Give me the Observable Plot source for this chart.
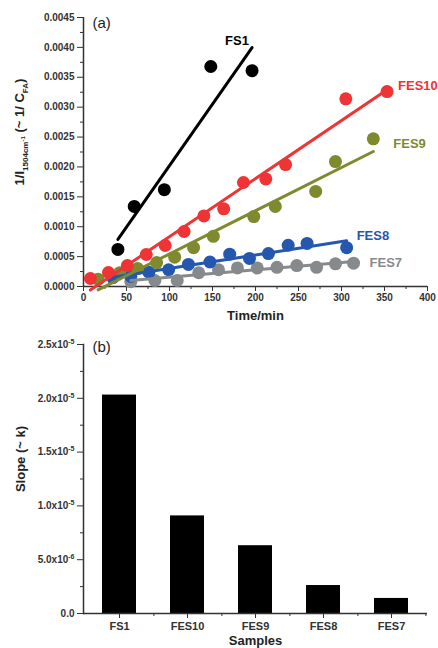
<!DOCTYPE html>
<html><head><meta charset="utf-8">
<script src="https://cdn.jsdelivr.net/npm/d3@7"></script>
<script src="https://cdn.jsdelivr.net/npm/@observablehq/plot@0.6"></script>
<style>body{margin:0;background:#fff} #wrap{width:438px} svg{display:block}</style>
</head><body><div id="wrap"></div>
<script>
// ---- Panel (a) data ----
const seriesNames = ["FS1", "FES10", "FES9", "FES8", "FES7"];
const seriesColors = ["#000000", "#ee3434", "#7f8a2e", "#2457ad", "#878a8c"];

const fs1Time = [40, 59, 94, 148, 196];
const fs1Value = [0.00062, 0.00134, 0.00162, 0.00368, 0.00361];

const fes10Time = [8, 29, 51, 73, 95, 117, 140, 163, 186, 212, 235, 305, 353];
const fes10Value = [0.000134, 0.000234, 0.00035, 0.000535, 0.000686, 0.00092, 0.00118, 0.0013, 0.00174, 0.0018, 0.00204, 0.00314, 0.00326];

const fes9Time = [17, 42, 63, 85, 106, 128, 151, 198, 223, 270, 293, 337];
const fes9Value = [0.00012, 0.00023, 0.0003, 0.0004, 0.00049, 0.00065, 0.00084, 0.00117, 0.00134, 0.00159, 0.00209, 0.00247];

const fes8Time = [34, 55, 76, 99, 122, 147, 170, 193, 215, 238, 260, 306];
const fes8Value = [0.00015, 0.00017, 0.00024, 0.00028, 0.00037, 0.00041, 0.00054, 0.00047, 0.00055, 0.00069, 0.00072, 0.00065];

const fes7Time = [55, 83, 109, 134, 157, 179, 202, 225, 248, 271, 293, 314];
const fes7Value = [0.00008, 0.0001, 0.0001, 0.00023, 0.00028, 0.00031, 0.00031, 0.00032, 0.00035, 0.00032, 0.00038, 0.00039];

const xTicks = [0, 50, 100, 150, 200, 250, 300, 350, 400];
const xMinorTicks = [25, 75, 125, 175, 225, 275, 325, 375];
const yTicks = [0, 0.0005, 0.001, 0.0015, 0.002, 0.0025, 0.003, 0.0035, 0.004, 0.0045];
const yMinorTicks = [0.00025, 0.00075, 0.00125, 0.00175, 0.00225, 0.00275, 0.00325, 0.00375, 0.00425];

// ---- Panel (b) data ----
const samples = ["FS1", "FES10", "FES9", "FES8", "FES7"];
const slopes = [2.03e-5, 9.07e-6, 6.3e-6, 2.6e-6, 1.4e-6];
const slopeTicks = [0, 5e-6, 1e-5, 1.5e-5, 2e-5, 2.5e-5];
const slopeMinorTicks = [2.5e-6, 7.5e-6, 1.25e-5, 1.75e-5, 2.25e-5];

// ---- build tables ----
const rows = [];
function addSeries(name, ts, vs) { ts.forEach((t, i) => rows.push({series: name, t, v: vs[i]})); }
addSeries("FES7", fes7Time, fes7Value);
addSeries("FES8", fes8Time, fes8Value);
addSeries("FES9", fes9Time, fes9Value);
addSeries("FES10", fes10Time, fes10Value);
addSeries("FS1", fs1Time, fs1Value);

const bars = samples.map((s, i) => ({sample: s, slope: slopes[i]}));

const FONT = "'Liberation Sans', Arial, sans-serif";
const AX = "#333";

// label offsets (style)
const labelOffsets = {FS1: [-27, -30], FES10: [11, -6], FES9: [20, 5], FES8: [10, -12], FES7: [16, 0]};

const labelMarks = seriesNames.map(name => Plot.text(rows.filter(d => d.series === name), Plot.selectLast({
  x: "t", y: "v", text: "series", fill: "series", dx: labelOffsets[name][0], dy: labelOffsets[name][1],
  textAnchor: "start", lineAnchor: "middle", fontSize: 13, fontWeight: "bold"
})));

const chartA = Plot.plot({
  width: 438, height: 325,
  marginLeft: 83, marginRight: 11, marginTop: 17, marginBottom: 39,
  style: {fontFamily: FONT, fontSize: "10px", fontWeight: "bold", color: "#222", background: "#fff"},
  x: {domain: [0, 400]},
  y: {domain: [0, 0.0045]},
  color: {domain: seriesNames, range: seriesColors},
  marks: [
    Plot.axisY({ticks: yTicks, tickFormat: d3.format(".4f"), tickSize: 6, tickPadding: 3, color: AX, label: null}),
    Plot.axisY(yMinorTicks, {tickSize: 3, tickFormat: () => "", color: AX, label: null}),
    Plot.axisX({ticks: xTicks, tickFormat: d3.format("d"), tickSize: 5, tickPadding: 2, color: AX, label: null}),
    Plot.axisX(xMinorTicks, {tickSize: 3, tickFormat: () => "", color: AX, label: null}),
    Plot.ruleX([0], {stroke: AX, strokeWidth: 1.5}),
    Plot.ruleY([0], {stroke: AX, strokeWidth: 1.5}),
    Plot.dot(rows, {x: "t", y: "v", fill: "series", r: 6.5}),
    Plot.linearRegressionY(rows, {x: "t", y: "v", stroke: "series", ci: 0, strokeWidth: 3}),
    ...labelMarks,
    Plot.text(["(a)"], {frameAnchor: "top-left", dx: 9, dy: 6, lineAnchor: "middle", fontSize: 15, fontWeight: "normal", fill: "#222"}),
    Plot.text(["Time/min"], {frameAnchor: "bottom", dy: 29, lineAnchor: "middle", fontSize: 13, fontWeight: "bold", fill: "#222"})
  ]
});

// rotated y label with sub/superscripts
const lab = d3.select(chartA).append("text")
  .attr("transform", "translate(24,132) rotate(-90)")
  .attr("text-anchor", "middle")
  .attr("font-family", FONT).attr("font-weight", "bold").attr("font-size", 13).attr("fill", "#222");
lab.append("tspan").text("1/I");
lab.append("tspan").attr("font-size", 8).attr("dy", 4).text("1504cm");
lab.append("tspan").attr("font-size", 6).attr("dy", -3).text("-1");
lab.append("tspan").attr("dy", -1).text(" (~ 1/ C");
lab.append("tspan").attr("font-size", 8).attr("dy", 4).text("FA");
lab.append("tspan").attr("dy", -4).text(")");

// mantissa|exponent, turned into a superscript after rendering
function sciFormat(d) {
  if (d === 0) return "0.0";
  const e = Math.floor(Math.log10(d) + 1e-9);
  const m = d / Math.pow(10, e);
  return m.toFixed(1) + "x10|" + e;
}

const chartB = Plot.plot({
  width: 438, height: 323,
  marginLeft: 83, marginRight: 11, marginTop: 19, marginBottom: 35,
  style: {fontFamily: FONT, fontSize: "10px", fontWeight: "bold", color: "#222", background: "#fff"},
  x: {type: "band", domain: samples, paddingInner: 0.5, paddingOuter: 0.25},
  y: {domain: [0, 2.5e-5]},
  marks: [
    Plot.barY(bars, {x: "sample", y: "slope", fill: "#000"}),
    Plot.axisY({ticks: slopeTicks, tickFormat: sciFormat, tickSize: 6, tickPadding: 3, color: AX, label: null}),
    Plot.axisY(slopeMinorTicks, {tickSize: 3, tickFormat: () => "", color: AX, label: null}),
    Plot.axisX({tickSize: 5, tickPadding: 4, fontSize: 11, color: AX, label: null}),
    Plot.axisX(samples, {tickSize: 3, dx: 34.4, tickFormat: () => "", color: AX, label: null}),
    Plot.ruleY([0], {stroke: AX, strokeWidth: 1.5}),
    Plot.frame({anchor: "left", stroke: AX, strokeWidth: 1.5}),
    Plot.text(["(b)"], {frameAnchor: "top-left", dx: 9, dy: 3, lineAnchor: "middle", fontSize: 15, fontWeight: "normal", fill: "#222"}),
    Plot.text(["Samples"], {frameAnchor: "bottom", dy: 27, lineAnchor: "middle", fontSize: 13, fontWeight: "bold", fill: "#222"}),
    Plot.text(["Slope (~ k)"], {frameAnchor: "left", dx: -63, dy: -20, rotate: -90, textAnchor: "middle", lineAnchor: "middle", fontSize: 13, fontWeight: "bold", fill: "#222"})
  ]
});

// turn "2.5x10|-5" tick labels into real superscripts
d3.select(chartB).selectAll("text").each(function () {
  const txt = this.textContent;
  if (txt.includes("|")) {
    const [mant, exp] = txt.split("|");
    const sel = d3.select(this);
    sel.text(null);
    sel.append("tspan").text(mant);
    sel.append("tspan").attr("font-size", 7).attr("dy", -4).text(exp);
  }
});

const wrap = document.getElementById("wrap");
wrap.appendChild(chartA);
wrap.appendChild(chartB);
</script>
</body></html>
